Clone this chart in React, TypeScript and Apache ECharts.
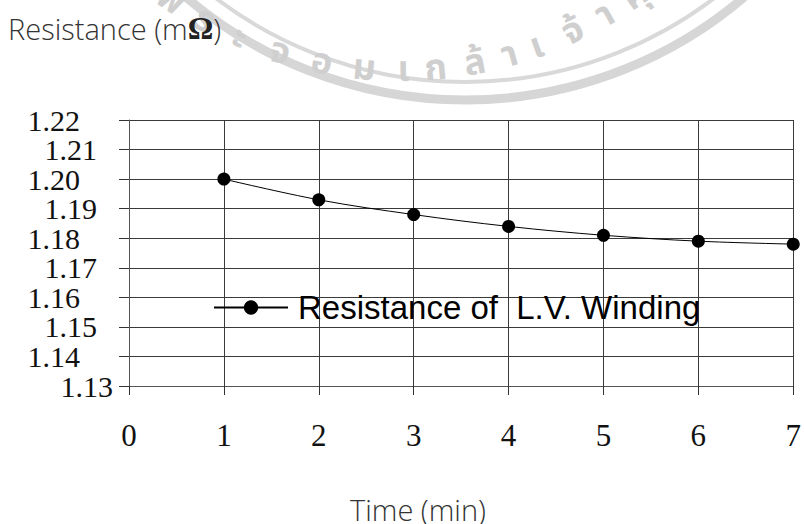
import React, { useEffect, useRef } from 'react';
import * as echarts from 'echarts';

// Measured winding resistance over time (mΩ)
const timeMin = [1, 2, 3, 4, 5, 6, 7];
const resistanceMOhm = [1.2, 1.193, 1.188, 1.184, 1.181, 1.179, 1.178];

// Resistance axis runs 1.13 … 1.22 in steps of 0.01; it is laid out in hundredths
// so that every step lands on an exact integer tick.
const yMinHundredths = 113;
const yMaxHundredths = 122;

const seriesName = 'Resistance of  L.V. Winding';
const yTitleText = 'Resistance (m';
const yTitleUnit = 'Ω';
const xTitleText = 'Time (min)';

// Seal watermark lettering (one glyph cluster per entry) and its angle along the arc, degrees
const sealGlyphs = ['พ', 'ร', 'ะ', 'จ', 'อ', 'ม', 'เ', 'ก', 'ล้', 'า', 'เ', 'จ้', 'า', 'คุ', 'ณ'];
const sealAngles = [-34, -28.5, -23, -17, -11, -5, 0.5, 5, 10.5, 15.5, 19.5, 25, 30, 35, 40];

export default function App() {
  const ref = useRef<HTMLDivElement>(null);

  useEffect(() => {
    if (!ref.current) return;
    const chart = echarts.init(ref.current, undefined, { renderer: 'svg' });

    const points = timeMin.map((t, i) => [t, Math.round(resistanceMOhm[i] * 1000) / 10]);

    const textCx = 400;
    const textCy = -340;
    const textR = 410;
    const sealText = sealGlyphs.map((g, i) => {
      const a = (sealAngles[i] * Math.PI) / 180;
      return {
        type: 'text',
        x: textCx + textR * Math.sin(a),
        y: textCy + textR * Math.cos(a),
        rotation: a,
        silent: true,
        z: -10,
        style: {
          text: g,
          fill: '#cfcfcf',
          fontSize: 36,
          fontWeight: 'bold',
          fontFamily: '"Noto Sans Thai", "Noto Sans Thai Looped", Loma, Garuda, Kinnari, sans-serif',
          align: 'center',
          verticalAlign: 'middle',
        },
      };
    });

    const labelFont = { fontFamily: '"Liberation Serif", serif', fontSize: 30, color: '#111' };

    // Labels alternate between two indents; the bottom one sits closest to the axis
    const yLabel = (v: number) => {
      const idx = Math.round(v - yMinHundredths);
      const s = (v / 100).toFixed(2);
      if (idx === 0) return `{v|${s}}`;
      return idx % 2 === 1 ? `{v|${s}}{wide| }` : `{v|${s}}{narrow| }`;
    };
    const isEnd = (v: number) => {
      const idx = Math.round(v - yMinHundredths);
      return idx === 0 || idx === yMaxHundredths - yMinHundredths;
    };
    const yRich = {
      v: { ...labelFont },
      wide: { ...labelFont, width: 33 },
      narrow: { ...labelFont, width: 16 },
    };

    const yScale = {
      type: 'value',
      min: yMinHundredths,
      max: yMaxHundredths,
      interval: 1,
    };

    const option: any = {
      animation: false,
      backgroundColor: '#ffffff',
      title: [
        {
          text: `{t|${yTitleText}}{o|${yTitleUnit}}{t|)}`,
          left: 8,
          top: 12,
          padding: 0,
          textStyle: {
            rich: {
              t: { fontFamily: '"Open Sans"', fontSize: 29, fontWeight: 300, color: '#333' },
              o: { fontFamily: '"Liberation Serif"', fontSize: 32, fontWeight: 'bold', color: '#222' },
            },
          },
        },
        {
          text: xTitleText,
          left: 350,
          top: 495,
          padding: 0,
          textStyle: { fontFamily: '"Open Sans"', fontSize: 29, fontWeight: 300, color: '#333' },
        },
      ],
      legend: {
        data: [seriesName],
        left: 213,
        top: 291,
        itemWidth: 74,
        itemHeight: 18,
        padding: 0,
        textStyle: {
          fontFamily: '"Liberation Sans", Arial, sans-serif',
          fontSize: 33,
          color: '#000',
          padding: [0, 0, 0, 5],
        },
      },
      grid: { left: 129, right: 5, top: 120, bottom: 138, containLabel: false },
      xAxis: {
        type: 'value',
        min: 0,
        max: 7,
        interval: 1,
        axisLine: { show: true, lineStyle: { color: '#555', width: 1 } },
        axisTick: { show: true, length: 9, lineStyle: { color: '#333' } },
        splitLine: { show: true, lineStyle: { color: '#3a3a3a', width: 1 } },
        axisLabel: {
          margin: 34,
          fontFamily: '"Liberation Serif", serif',
          fontSize: 31,
          color: '#111',
          formatter: (v: number) => String(v),
        },
      },
      yAxis: [
        {
          ...yScale,
          position: 'left',
          axisLine: { show: true, lineStyle: { color: '#555', width: 1 } },
          axisTick: { show: true, length: 10, lineStyle: { color: '#333' } },
          splitLine: { show: true, lineStyle: { color: '#3a3a3a', width: 1 } },
          axisLabel: {
            margin: 16,
            showMinLabel: true,
            showMaxLabel: true,
            ...labelFont,
            formatter: (v: number) => (isEnd(v) ? '' : yLabel(v)),
            rich: yRich,
          },
        },
        {
          // end labels (1.13 and 1.22) on a twin axis so they never crowd out their neighbours
          ...yScale,
          position: 'left',
          axisLine: { show: false },
          axisTick: { show: false },
          splitLine: { show: false },
          axisLabel: {
            margin: 16,
            showMinLabel: true,
            showMaxLabel: true,
            ...labelFont,
            formatter: (v: number) => (isEnd(v) ? yLabel(v) : ''),
            rich: yRich,
          },
        },
      ],
      series: [
        {
          name: seriesName,
          type: 'line',
          yAxisIndex: 0,
          data: points,
          smooth: 0.35,
          symbol: 'circle',
          symbolSize: 13,
          clip: false,
          itemStyle: { color: '#000' },
          lineStyle: { color: '#000', width: 1 },
        },
      ],
      graphic: [
        {
          type: 'arc',
          silent: true,
          z: -10,
          shape: { cx: 465, cy: -330, r: 430, startAngle: 0, endAngle: Math.PI },
          style: { stroke: '#d6d6d6', lineWidth: 9, fill: null },
        },
        {
          type: 'arc',
          silent: true,
          z: -10,
          shape: { cx: 465, cy: -330, r: 412, startAngle: 0, endAngle: Math.PI },
          style: { stroke: '#d9d9d9', lineWidth: 4, fill: null },
        },
        ...sealText,
      ],
    };

    chart.setOption(option);
    return () => chart.dispose();
  }, []);

  return (
    <div
      ref={ref}
      style={{ position: 'fixed', left: 0, top: 0, width: 804, height: 524, background: '#fff' }}
    />
  );
}
